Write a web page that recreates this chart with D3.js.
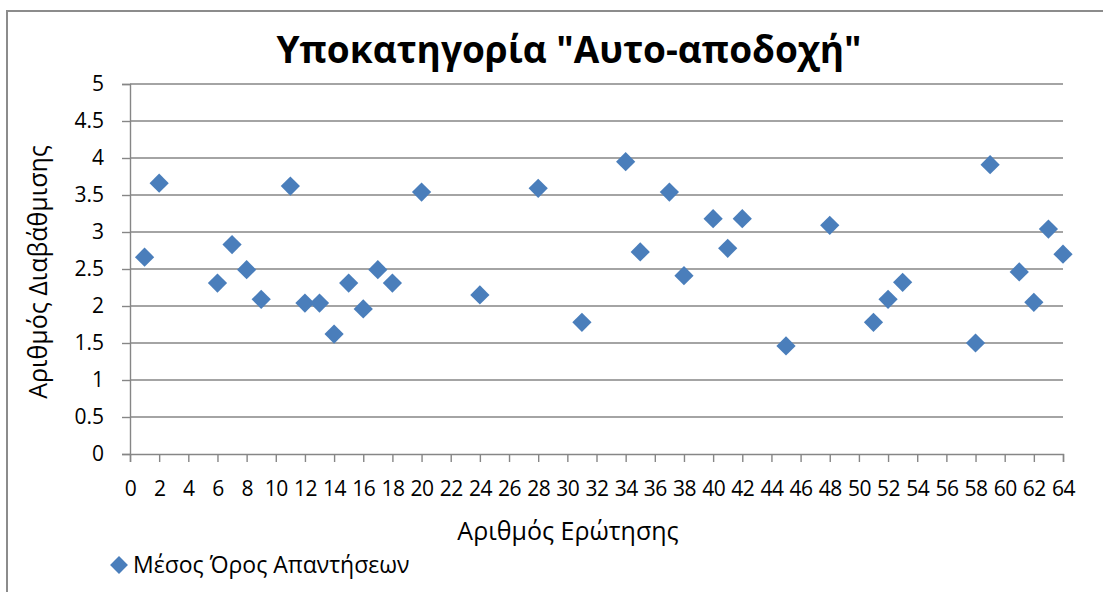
<!DOCTYPE html>
<html lang="el">
<head>
<meta charset="UTF-8">
<title>Υποκατηγορία "Αυτο-αποδοχή"</title>
<script src="https://d3js.org/d3.v7.min.js"></script>
<style>
    body { margin: 0; background: #fff; }
    svg text { font-family: "Open Sans", "Noto Sans", sans-serif; fill: #000; }
</style>
</head>
<body>
<svg id="chart" width="1103" height="592"></svg>
<script>
// question numbers and mean answer per question
const questions = [1, 2, 6, 7, 8, 9, 11, 12, 13, 14, 15, 16, 17, 18, 20, 24, 28, 31, 34, 35,
                   37, 38, 40, 41, 42, 45, 48, 51, 52, 53, 58, 59, 61, 62, 63, 64];
const means = [2.66, 3.66, 2.31, 2.83, 2.49, 2.09, 3.62, 2.04, 2.04, 1.62, 2.31, 1.96, 2.49, 2.31, 3.54, 2.15, 3.59, 1.78, 3.95, 2.73,
               3.54, 2.41, 3.18, 2.78, 3.18, 1.46, 3.09, 1.78, 2.09, 2.32, 1.50, 3.91, 2.46, 2.05, 3.04, 2.70];
const xTicks = d3.range(0, 65, 2);
const yTicks = [0, 0.5, 1, 1.5, 2, 2.5, 3, 3.5, 4, 4.5, 5];

const title = 'Υποκατηγορία "Αυτο-αποδοχή"';
const xTitle = "Αριθμός Ερώτησης";
const yTitle = "Αριθμός Διαβάθμισης";
const seriesName = "Μέσος Όρος Απαντήσεων";

const svg = d3.select("#chart");
const plot = { left: 130, right: 1063, top: 84, bottom: 454 };
const grey = "#868686", blue = "#4a7ebb";

// chart frame
svg.append("path")
    .attr("d", "M7,600 L7,11 L1110,11")
    .attr("fill", "none").attr("stroke", "#8c8c8c").attr("stroke-width", 2);

const x = d3.scaleLinear().domain([0, 64]).range([plot.left, plot.right]);
const y = d3.scaleLinear().domain([0, 5]).range([plot.bottom, plot.top]);

// horizontal gridlines
svg.append("g").selectAll("line").data(yTicks.slice(1)).join("line")
    .attr("x1", plot.left).attr("x2", plot.right)
    .attr("y1", d => y(d)).attr("y2", d => y(d))
    .attr("stroke", grey).attr("stroke-width", 1.4);

// y axis
const yAxis = svg.append("g")
    .attr("transform", `translate(${plot.left},0)`)
    .call(d3.axisLeft(y).tickValues(yTicks).tickSize(8).tickPadding(18).tickFormat(d3.format("")));
yAxis.select(".domain").attr("stroke", grey).attr("stroke-width", 1.4);
yAxis.selectAll(".tick line").attr("stroke", grey).attr("stroke-width", 1.4);
yAxis.selectAll(".tick text").style("font-size", "21px");

// x axis
const xAxis = svg.append("g")
    .attr("transform", `translate(0,${plot.bottom})`)
    .call(d3.axisBottom(x).tickValues(xTicks).tickSize(8).tickPadding(19).tickFormat(d3.format("d")));
xAxis.select(".domain").attr("stroke", grey).attr("stroke-width", 1.4);
xAxis.selectAll(".tick line").attr("stroke", grey).attr("stroke-width", 1.4);
xAxis.selectAll(".tick text").style("font-size", "21px").attr("letter-spacing", "-0.5px");

// points
const diamond = d3.symbol().type(d3.symbolSquare).size(185);
svg.append("g").selectAll("path").data(questions).join("path")
    .attr("d", diamond)
    .attr("transform", (d, i) => `translate(${x(d)},${y(means[i])}) rotate(45)`)
    .attr("fill", blue);

// titles
svg.append("text")
    .attr("x", 569).attr("y", 63)
    .attr("text-anchor", "middle")
    .style("font-size", "37px").style("font-weight", "bold")
    .text(title);

svg.append("text")
    .attr("x", 568).attr("y", 540)
    .attr("text-anchor", "middle")
    .style("font-size", "25px")
    .text(xTitle);

svg.append("text")
    .attr("transform", "translate(47,272) rotate(-90)")
    .attr("text-anchor", "middle")
    .style("font-size", "25px")
    .text(yTitle);

// legend
svg.append("path")
    .attr("d", d3.symbol().type(d3.symbolSquare).size(160))
    .attr("transform", "translate(119,565) rotate(45)")
    .attr("fill", blue);
svg.append("text")
    .attr("x", 133).attr("y", 573)
    .style("font-size", "23px")
    .text(seriesName);
</script>
</body>
</html>
